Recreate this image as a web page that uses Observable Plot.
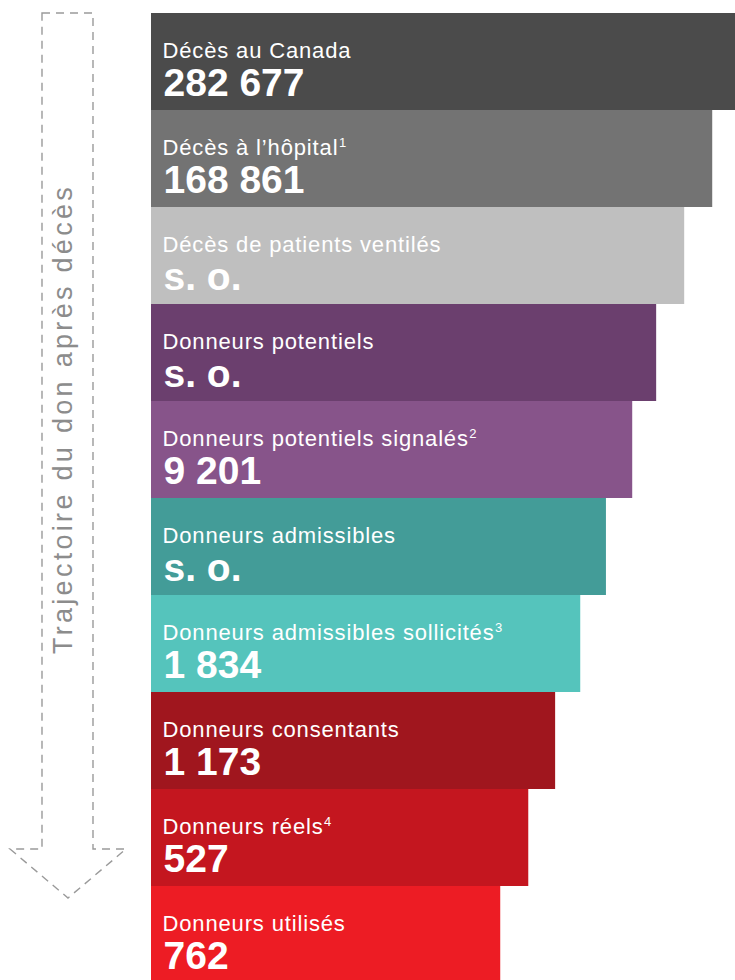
<!DOCTYPE html>
<html>
<head>
<meta charset="utf-8">
<script src="https://cdn.jsdelivr.net/npm/d3@7"></script>
<script src="https://cdn.jsdelivr.net/npm/@observablehq/plot@0.6"></script>
<style>
  html, body { margin: 0; padding: 0; background: #ffffff; overflow: hidden; }
  #chart svg { display: block; }
</style>
</head>
<body>
<div id="chart"></div>
<script>
// Stages of the deceased donation pathway (top to bottom)
const stages = [
  "Décès au Canada",
  "Décès à l’hôpital¹",
  "Décès de patients ventilés",
  "Donneurs potentiels",
  "Donneurs potentiels signalés²",
  "Donneurs admissibles",
  "Donneurs admissibles sollicités³",
  "Donneurs consentants",
  "Donneurs réels⁴",
  "Donneurs utilisés"
];
// Reported counts ("s. o." = sans objet)
const counts = ["282 677", "168 861", "s. o.", "s. o.", "9 201", "s. o.", "1 834", "1 173", "527", "762"];
// Funnel bar length (relative, % of the first stage), as drawn
const funnelWidth = [100, 96.1, 91.3, 86.5, 82.4, 77.9, 73.5, 69.2, 64.6, 59.8];
// Stage colours
const stageColors = ["#4b4b4b", "#737373", "#bfbfbf", "#6b3f6e", "#87548a", "#439c98", "#55c4bc", "#a0161e", "#c4161f", "#ed1c24"];
const sideTitle = "Trajectoire du don après décès";

const data = stages.map((s, i) => ({stage: s, count: counts[i], w: funnelWidth[i], color: stageColors[i]}));

const W = 735, H = 980;
const FONT = "'Liberation Sans', Arial, Helvetica, sans-serif";

const plot = Plot.plot({
  width: W,
  height: H,
  marginLeft: 151,
  marginRight: 0,
  marginTop: 13,
  marginBottom: 0,
  style: {fontFamily: FONT, background: "#ffffff", overflow: "hidden"},
  x: {domain: [0, 100], range: [151, 735], axis: null},
  y: {domain: stages, range: [13, 983], padding: 0, axis: null},
  color: {type: "identity"},
  marks: [
    Plot.barX(data, {x: "w", y: "stage", fill: "color"}),
    Plot.text(data, {
      x: 0, y: "stage", text: "stage", textAnchor: "start", lineAnchor: "bottom",
      dx: 11, dy: -4.5, fill: "#ffffff", fontSize: 22
    }),
    Plot.text(data, {
      x: 0, y: "stage", text: "count", textAnchor: "start", lineAnchor: "bottom",
      dx: 12, dy: 33.5, fill: "#ffffff", fontSize: 39, fontWeight: "bold"
    })
  ]
});

document.getElementById("chart").appendChild(plot);

const svgSel = d3.select(plot);
const textGroups = svgSel.selectAll('g[aria-label="text"]').nodes();
const labelGroup = d3.select(textGroups[0]);
labelGroup.attr("letter-spacing", "0.85px");

// Render footnote markers as raised small digits (still real text)
const supMap = {"¹": "1", "²": "2", "³": "3", "⁴": "4"};
labelGroup.selectAll("text").each(function() {
  const t = d3.select(this);
  const s = t.text();
  const last = s.slice(-1);
  if (supMap[last]) {
    t.text(s.slice(0, -1));
    t.append("tspan").attr("font-size", 13).attr("dy", -7.5).attr("dx", 0.5).text(supMap[last]);
  }
});

// Dashed arrow annotation in the left margin
const yRange = plot.scale("y").range;
const arrowTop = yRange[0];
const arrowPts = [
  [42, arrowTop], [93, arrowTop], [93, 849], [126, 849], [68, 898], [10, 849], [42, 849]
];
svgSel.append("path")
  .attr("d", d3.line()(arrowPts) + "Z")
  .attr("fill", "none")
  .attr("stroke", "#9a9a9a")
  .attr("stroke-width", 1.4)
  .attr("stroke-dasharray", "8,6");

svgSel.append("text")
  .attr("transform", "translate(72,419) rotate(-90)")
  .attr("text-anchor", "middle")
  .attr("font-family", FONT)
  .attr("font-size", 27)
  .attr("letter-spacing", "3.3px")
  .attr("fill", "#8c8c8c")
  .text(sideTitle);
</script>
</body>
</html>
